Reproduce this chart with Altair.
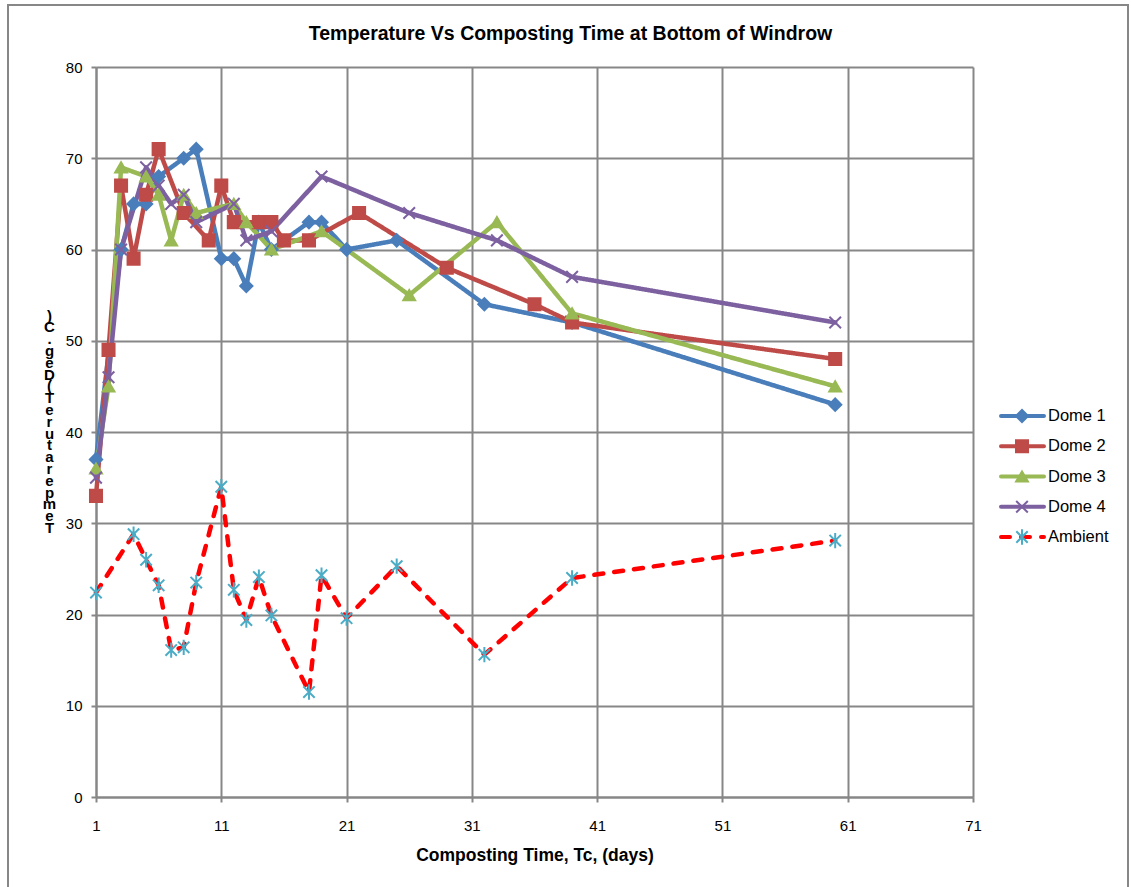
import altair as alt
import pandas as pd

# ---------------- data ----------------
dome1_days = [1, 3, 4, 5, 6, 8, 9, 11, 12, 13, 14, 15, 18, 19, 21, 25, 32, 39, 60]
dome1_temp = [37, 60, 65, 65, 68, 70, 71, 59, 59, 56, 63, 60, 63, 63, 60, 61, 54, 52, 43]

dome2_days = [1, 2, 3, 4, 5, 6, 8, 10, 11, 12, 14, 15, 16, 18, 22, 29, 36, 39, 60]
dome2_temp = [33, 49, 67, 59, 66, 71, 64, 61, 67, 63, 63, 63, 61, 61, 64, 58, 54, 52, 48]

dome3_days = [1, 2, 3, 5, 6, 7, 8, 9, 12, 13, 15, 19, 26, 33, 39, 60]
dome3_temp = [36, 45, 69, 68, 66, 61, 66, 64, 65, 63, 60, 62, 55, 63, 53, 45]

dome4_days = [1, 2, 3, 5, 6, 7, 8, 9, 12, 13, 15, 19, 26, 33, 39, 60]
dome4_temp = [35, 46, 60, 69, 67, 65, 66, 63, 65, 61, 62, 68, 64, 61, 57, 52]

ambient_days = [1, 4, 5, 6, 7, 8, 9, 11, 12, 13, 14, 15, 18, 19, 21, 25, 32, 39, 60]
ambient_temp = [22.4, 28.8, 26.0, 23.2, 16.1, 16.4, 23.5, 34.0, 22.7, 19.4, 24.1,
                19.9, 11.5, 24.3, 19.6, 25.3, 15.6, 24.0, 28.1]

series_names = ["Dome 1", "Dome 2", "Dome 3", "Dome 4", "Ambient"]
x_ticks = [1, 11, 21, 31, 41, 51, 61, 71]
y_ticks = [0, 10, 20, 30, 40, 50, 60, 70, 80]

chart_title = "Temperature Vs Composting Time at Bottom of Windrow"
x_title = "Composting Time, Tc, (days)"
y_title = "Temperature T(Deg.C)"

# ---------------- styling ----------------
line_colors = ["#4A7EBB", "#BE4B48", "#98B954", "#7D60A0", "#FF0000"]
marker_colors = ["#4A7EBB", "#BE4B48", "#98B954", "#7D60A0", "#4BACC6"]
X_PATH = "M-1,-1L1,1M-1,1L1,-1"
AST_PATH = "M-1,-1L1,1M-1,1L1,-1M0,-1.35L0,1.35"
shapes = ["diamond", "square", "triangle-up", X_PATH, AST_PATH]
sizes = [150, 130, 150, 130, 140]
dashes = [[1, 0], [1, 0], [1, 0], [1, 0], [9, 11]]
FONT = "Liberation Sans"
GRID = "#878787"

all_days = [dome1_days, dome2_days, dome3_days, dome4_days, ambient_days]
all_temp = [dome1_temp, dome2_temp, dome3_temp, dome4_temp, ambient_temp]
rows = []
for name, ds, ts in zip(series_names, all_days, all_temp):
    for i, (d, t) in enumerate(zip(ds, ts)):
        rows.append({"series": name, "day": d, "temp": t, "order": i})
df = pd.DataFrame(rows)
legend_df = pd.DataFrame({"series": series_names})

PLOT_LEFT, PLOT_TOP, PLOT_W, PLOT_H = 96, 67, 877, 730

color_line = alt.Scale(domain=series_names, range=line_colors)
color_mark = alt.Scale(domain=series_names, range=marker_colors)
shape_scale = alt.Scale(domain=series_names, range=shapes)
size_scale = alt.Scale(domain=series_names, range=sizes)
dash_scale = alt.Scale(domain=series_names, range=dashes)

x_enc = alt.X(
    "day:Q",
    scale=alt.Scale(domain=[1, 71], nice=False, zero=False),
    axis=alt.Axis(values=x_ticks, title=x_title, format="d"),
)
y_enc = alt.Y(
    "temp:Q",
    scale=alt.Scale(domain=[0, 80], nice=False),
    axis=alt.Axis(
        values=y_ticks,
        title=list(reversed(y_title)),
        titleAngle=0,
        titleAlign="center",
        titleBaseline="top",
        titleX=-47,
        titleY=241,
        titleLineHeight=11.8,
        titleFontSize=15,
    ),
)

base = alt.Chart(df)

lines = base.mark_line(strokeWidth=4.5, strokeCap="round", strokeJoin="round").encode(
    x=x_enc,
    y=y_enc,
    color=alt.Color("series:N", scale=color_line, legend=None),
    strokeDash=alt.StrokeDash("series:N", scale=dash_scale, legend=None),
    order="order:Q",
)

points = base.mark_point(filled=True, opacity=1, strokeWidth=2).encode(
    x="day:Q",
    y="temp:Q",
    shape=alt.Shape("series:N", scale=shape_scale, legend=None),
    fill=alt.Fill("series:N", scale=color_mark, legend=None),
    stroke=alt.Stroke("series:N", scale=color_mark, legend=None),
    size=alt.Size("series:N", scale=size_scale, legend=None),
)

# ---- manual legend (Excel style: line with marker) ----
leg_y = alt.Y(
    "series:N",
    scale=alt.Scale(domain=series_names, range=[416 - PLOT_TOP, 537 - PLOT_TOP], type="point", padding=0),
    axis=None,
)
leg = alt.Chart(legend_df)
leg_lines = leg.mark_rule(strokeWidth=4, strokeCap="round").encode(
    x=alt.value(1001 - PLOT_LEFT),
    x2=alt.value(1044 - PLOT_LEFT),
    y=leg_y,
    color=alt.Color("series:N", scale=color_line, legend=None),
    strokeDash=alt.StrokeDash("series:N", scale=dash_scale, legend=None),
)
leg_points = leg.mark_point(filled=True, opacity=1, strokeWidth=2).encode(
    x=alt.value(1022 - PLOT_LEFT),
    y=leg_y,
    shape=alt.Shape("series:N", scale=shape_scale, legend=None),
    fill=alt.Fill("series:N", scale=color_mark, legend=None),
    stroke=alt.Stroke("series:N", scale=color_mark, legend=None),
    size=alt.Size("series:N", scale=size_scale, legend=None),
)
leg_text = leg.mark_text(align="left", baseline="middle", fontSize=16.5, font=FONT, color="#000000").encode(
    x=alt.value(1048 - PLOT_LEFT),
    y=leg_y,
    text="series:N",
)
legend_layer = alt.layer(leg_lines, leg_points, leg_text)

# outer frame of the figure
frame = alt.Chart(pd.DataFrame({"f": [0]})).mark_rect(
    fillOpacity=0, stroke=GRID, strokeWidth=2
).encode(
    x=alt.value(8 - PLOT_LEFT),
    x2=alt.value(1128 - PLOT_LEFT),
    y=alt.value(5 - PLOT_TOP),
    y2=alt.value(900 - PLOT_TOP),
)

main = alt.layer(lines, points)

chart = (
    alt.layer(frame, main, legend_layer)
    .resolve_scale(y="independent", x="independent")
    .properties(
        width=PLOT_W,
        height=PLOT_H,
        title=alt.TitleParams(
            chart_title,
            anchor="middle",
            frame="group",
            dx=36,
            dy=40,
            fontSize=19.5,
            font=FONT,
            fontWeight="bold",
            color="#000000",
            offset=0,
        ),
        autosize=alt.AutoSizeParams(type="none"),
        padding={"left": PLOT_LEFT, "top": PLOT_TOP, "right": 1131 - PLOT_LEFT - PLOT_W, "bottom": 887 - PLOT_TOP - PLOT_H},
    )
    .configure(background="#FFFFFF")
    .configure_view(stroke=None)
    .configure_axis(
        labelFont=FONT,
        labelFontSize=15,
        labelColor="#000000",
        titleFont=FONT,
        titleFontSize=17.5,
        titleFontWeight="bold",
        titleColor="#000000",
        gridColor=GRID,
        gridWidth=2,
        gridOpacity=1,
        domainColor=GRID,
        domainWidth=2,
        tickColor=GRID,
        tickWidth=2,
        tickSize=5,
    )
    .configure_axisX(labelPadding=16, titlePadding=13, labelFlush=False)
    .configure_axisY(labelPadding=9)
)

chart.save("out.html", embed_options={"renderer": "svg", "actions": False})
